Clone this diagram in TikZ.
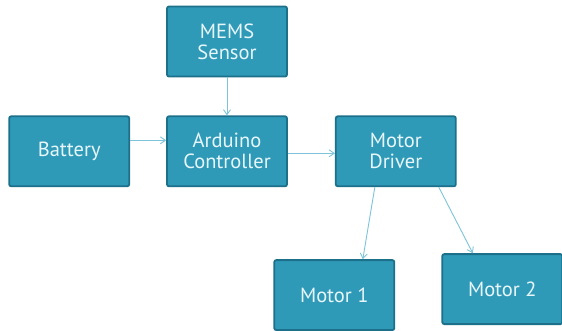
\documentclass[tikz,border=0pt]{standalone}
\usepackage{fontspec}
\setmainfont{PT Sans}
\usepackage{xcolor}
\usepackage{tikz}
\usetikzlibrary{positioning,arrows.meta}
\definecolor{boxfill}{RGB}{46,154,184}
\definecolor{boxline}{RGB}{28,112,138}
\definecolor{arrline}{RGB}{125,195,217}
\definecolor{boxtext}{RGB}{232,246,250}

\begin{document}
\begin{tikzpicture}[
  x=1pt,y=1pt,
  block/.style={draw=boxline,line width=1.8pt,rounded corners=2pt,
                fill=boxfill,minimum height=70pt,minimum width=120pt,
                align=center,text=boxtext,font=\fontsize{20.5}{21}\selectfont},
  arr/.style ={-{Straight Barb[length=5pt,width=7pt]},draw=arrline,line width=0.9pt}]
  \useasboundingbox (0,0) rectangle (562,-330);
  \node[block] (mems) at (227,-41.5) {MEMS\\ Sensor};
  \node[block,below=38pt of mems] (ard) {Arduino\\ Controller};
  \node[block,left=36pt of ard] (bat) {Battery};
  \node[block,right=47pt of ard] (drv) {Motor\\ Driver};
  \node[block,below=72pt of drv,xshift=-61.5pt] (mot1) {Motor 1};
  \node[block,below=66pt of drv,xshift=106.5pt] (mot2) {Motor 2};
  \draw[arr] (mems)--(ard);
  \draw[arr] ([yshift=11pt]bat.east)--([yshift=11pt]ard.west);
  \draw[arr] ([yshift=-2pt]ard.east)--([yshift=-2pt]drv.west);
  \draw[arr] ([xshift=-21pt]drv.south)--([xshift=28.5pt]mot1.north);
  \draw[arr] ([xshift=43pt]drv.south)--([xshift=-29.5pt]mot2.north);
\end{tikzpicture}
\end{document}
